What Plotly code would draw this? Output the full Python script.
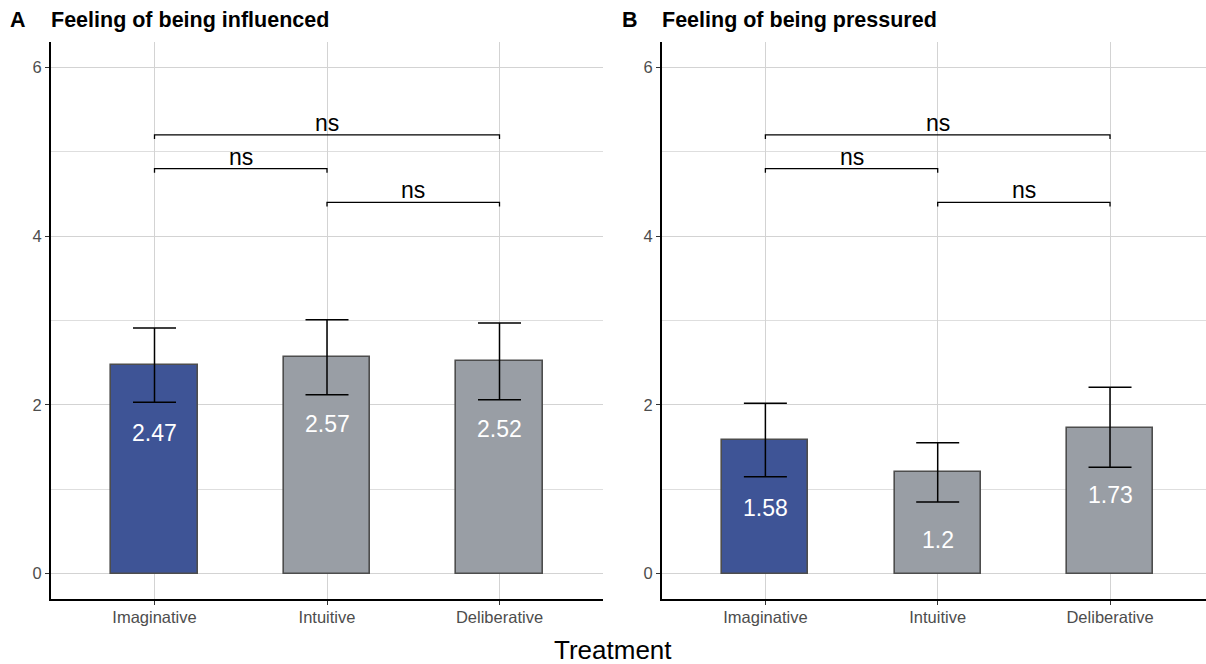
import plotly.graph_objects as go

W, H = 1206, 664

categories = ["Imaginative", "Intuitive", "Deliberative"]
influenced_mean = [2.47, 2.57, 2.52]
influenced_low = [2.03, 2.12, 2.06]
influenced_high = [2.91, 3.01, 2.97]
pressured_mean = [1.58, 1.2, 1.73]
pressured_low = [1.15, 0.85, 1.26]
pressured_high = [2.02, 1.55, 2.21]
bar_colors = ["#3E5496", "#999EA5", "#999EA5"]

bracket_start = [0, 0, 1]
bracket_end = [2, 1, 2]
bracket_y = [5.2, 4.8, 4.4]
bracket_label = ["ns", "ns", "ns"]

y_ticks = [0, 2, 4, 6]
y_minor = [1, 3, 5]

panel_letters = ["A", "B"]
panel_titles = ["Feeling of being influenced", "Feeling of being pressured"]
x_title = "Treatment"

FONT = "Liberation Sans, Arial, Helvetica, sans-serif"

fig = go.Figure()
xs = list(range(len(categories)))

panels = [
    (influenced_mean, influenced_low, influenced_high, "x", "y"),
    (pressured_mean, pressured_low, pressured_high, "x2", "y2"),
]
annotations = []
for (means, lows, highs, xa, ya) in panels:
    fig.add_trace(go.Bar(
        x=xs, y=means, width=0.5, xaxis=xa, yaxis=ya,
        marker=dict(color=bar_colors, line=dict(color="#4d4d4d", width=1.6)),
        error_y=dict(type="data", symmetric=False,
                     array=[h - m for h, m in zip(highs, means)],
                     arrayminus=[m - l for m, l in zip(means, lows)],
                     color="black", thickness=1.5, width=21.5),
        showlegend=False, hoverinfo="skip",
    ))
    for x, m in zip(xs, means):
        annotations.append(dict(x=x, y=m - 0.8, xref=xa, yref=ya, text=f"{m:g}",
                                showarrow=False, font=dict(color="white", size=23, family=FONT),
                                xanchor="center", yanchor="middle"))
    for s, e, yv, lab in zip(bracket_start, bracket_end, bracket_y, bracket_label):
        fig.add_trace(go.Scatter(
            x=[s, s, e, e], y=[yv - 0.05, yv, yv, yv - 0.05], mode="lines",
            line=dict(color="black", width=1.3), xaxis=xa, yaxis=ya,
            showlegend=False, hoverinfo="skip",
        ))
        annotations.append(dict(x=(s + e) / 2, y=yv, xref=xa, yref=ya, text=lab,
                                showarrow=False, font=dict(color="black", size=23, family=FONT),
                                xanchor="center", yanchor="bottom", yshift=-3))

# panel titles
title_pos = [(8, 49), (620, 660)]
for (lx, tx), letter, title in zip(title_pos, panel_letters, panel_titles):
    annotations.append(dict(x=lx / W, y=1 - 20 / H, xref="paper", yref="paper", text=f"<b>{letter}</b>",
                            showarrow=False, xanchor="left", yanchor="middle",
                            font=dict(size=21.5, color="black", family=FONT)))
    annotations.append(dict(x=tx / W, y=1 - 20 / H, xref="paper", yref="paper", text=f"<b>{title}</b>",
                            showarrow=False, xanchor="left", yanchor="middle",
                            font=dict(size=21.5, color="black", family=FONT)))
annotations.append(dict(x=613 / W, y=1 - 650 / H, xref="paper", yref="paper", text=x_title,
                        showarrow=False, xanchor="center", yanchor="middle",
                        font=dict(size=26, color="black", family=FONT)))

ydom = [1 - 599 / H, 1 - 42 / H]
yaxis_common = dict(
    range=[-0.3, 6.3], tickvals=y_ticks, ticktext=[str(t) for t in y_ticks],
    showgrid=True, gridcolor="#d3d3d3", gridwidth=1,
    minor=dict(tickvals=y_minor, showgrid=True, gridcolor="#dedede", gridwidth=1, ticks=""),
    showline=True, linecolor="black", linewidth=1.8,
    ticks="outside", ticklen=4, tickcolor="#333333", tickwidth=1,
    tickfont=dict(size=16.5, color="#4d4d4d", family=FONT),
    zeroline=False, domain=ydom, fixedrange=True,
)
xaxis_common = dict(
    tickvals=xs, ticktext=categories,
    showgrid=True, gridcolor="#d3d3d3", gridwidth=1,
    showline=True, linecolor="black", linewidth=1.8,
    ticks="outside", ticklen=4, tickcolor="#333333", tickwidth=1,
    tickfont=dict(size=16.5, color="#4d4d4d", family=FONT),
    ticklabelstandoff=-2,
    zeroline=False,
)

fig.update_layout(
    width=W, height=H, margin=dict(l=0, r=0, t=0, b=0),
    paper_bgcolor="white", plot_bgcolor="white",
    xaxis=dict(**xaxis_common, domain=[51 / W, 603 / W], range=[-0.6, 2.6], anchor="y"),
    yaxis=dict(**yaxis_common, anchor="x"),
    xaxis2=dict(**xaxis_common, domain=[662 / W, 1.0], range=[-0.6, 2.557], anchor="y2"),
    yaxis2=dict(**yaxis_common, anchor="x2"),
    annotations=annotations,
    bargap=0,
    font=dict(family=FONT),
)

fig.write_html("out.html")
